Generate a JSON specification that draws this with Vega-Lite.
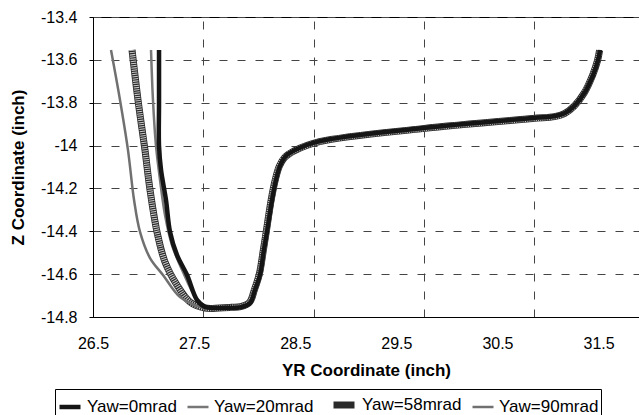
{
  "$schema": "https://vega.github.io/schema/vega-lite/v6.json",
  "width": 546,
  "height": 300,
  "autosize": {"type": "none"},
  "padding": {"left": 93, "top": 17, "right": 0, "bottom": 98},
  "background": "white",
  "config": {
    "font": "Liberation Sans",
    "view": {"stroke": "black", "strokeWidth": 1},
    "axis": {"labelColor": "black", "titleColor": "black", "domainColor": "black", "tickColor": "black", "gridColor": "#444444", "gridDash": [8, 10], "gridWidth": 1, "labelFontSize": 16, "titleFontSize": 17, "titleFontWeight": "bold"},
    "legend": {"orient": "none", "legendX": -38, "legendY": 372, "direction": "horizontal", "strokeColor": "black", "padding": 2, "symbolType": "stroke", "symbolSize": 441, "labelFontSize": 17, "labelColor": "black", "labelOffset": 4, "columnPadding": 5, "title": null}
  },
  "data": {"values": [
    {"series": "Yaw=58mrad", "i": 0, "yr": 26.886, "z": -13.554},
    {"series": "Yaw=58mrad", "i": 1, "yr": 26.945, "z": -13.787},
    {"series": "Yaw=58mrad", "i": 2, "yr": 27.014, "z": -14.021},
    {"series": "Yaw=58mrad", "i": 3, "yr": 27.064, "z": -14.207},
    {"series": "Yaw=58mrad", "i": 4, "yr": 27.133, "z": -14.403},
    {"series": "Yaw=58mrad", "i": 5, "yr": 27.212, "z": -14.543},
    {"series": "Yaw=58mrad", "i": 6, "yr": 27.331, "z": -14.651},
    {"series": "Yaw=58mrad", "i": 7, "yr": 27.459, "z": -14.73},
    {"series": "Yaw=58mrad", "i": 8, "yr": 27.608, "z": -14.758},
    {"series": "Yaw=58mrad", "i": 9, "yr": 27.75, "z": -14.758},
    {"series": "Yaw=58mrad", "i": 10, "yr": 27.87, "z": -14.755},
    {"series": "Yaw=58mrad", "i": 11, "yr": 27.96, "z": -14.752},
    {"series": "Yaw=58mrad", "i": 12, "yr": 28.048, "z": -14.732},
    {"series": "Yaw=58mrad", "i": 13, "yr": 28.097, "z": -14.672},
    {"series": "Yaw=58mrad", "i": 14, "yr": 28.145, "z": -14.6},
    {"series": "Yaw=58mrad", "i": 15, "yr": 28.185, "z": -14.487},
    {"series": "Yaw=58mrad", "i": 16, "yr": 28.213, "z": -14.403},
    {"series": "Yaw=58mrad", "i": 17, "yr": 28.262, "z": -14.254},
    {"series": "Yaw=58mrad", "i": 18, "yr": 28.302, "z": -14.161},
    {"series": "Yaw=58mrad", "i": 19, "yr": 28.342, "z": -14.097},
    {"series": "Yaw=58mrad", "i": 20, "yr": 28.392, "z": -14.057},
    {"series": "Yaw=58mrad", "i": 21, "yr": 28.49, "z": -14.025},
    {"series": "Yaw=58mrad", "i": 22, "yr": 28.74, "z": -13.982},
    {"series": "Yaw=58mrad", "i": 23, "yr": 29.76, "z": -13.921},
    {"series": "Yaw=58mrad", "i": 24, "yr": 30.85, "z": -13.874},
    {"series": "Yaw=58mrad", "i": 25, "yr": 31.065, "z": -13.865},
    {"series": "Yaw=58mrad", "i": 26, "yr": 31.162, "z": -13.851},
    {"series": "Yaw=58mrad", "i": 27, "yr": 31.262, "z": -13.814},
    {"series": "Yaw=58mrad", "i": 28, "yr": 31.36, "z": -13.753},
    {"series": "Yaw=58mrad", "i": 29, "yr": 31.44, "z": -13.673},
    {"series": "Yaw=58mrad", "i": 30, "yr": 31.49, "z": -13.603},
    {"series": "Yaw=58mrad", "i": 31, "yr": 31.51, "z": -13.556},

    {"series": "Yaw=20mrad", "i": 0, "yr": 27.074, "z": -13.554},
    {"series": "Yaw=20mrad", "i": 1, "yr": 27.093, "z": -13.787},
    {"series": "Yaw=20mrad", "i": 2, "yr": 27.123, "z": -14.002},
    {"series": "Yaw=20mrad", "i": 3, "yr": 27.163, "z": -14.161},
    {"series": "Yaw=20mrad", "i": 4, "yr": 27.212, "z": -14.324},
    {"series": "Yaw=20mrad", "i": 5, "yr": 27.281, "z": -14.464},
    {"series": "Yaw=20mrad", "i": 6, "yr": 27.39, "z": -14.59},
    {"series": "Yaw=20mrad", "i": 7, "yr": 27.509, "z": -14.702},
    {"series": "Yaw=20mrad", "i": 8, "yr": 27.628, "z": -14.753},
    {"series": "Yaw=20mrad", "i": 9, "yr": 27.72, "z": -14.76},
    {"series": "Yaw=20mrad", "i": 10, "yr": 27.82, "z": -14.755},
    {"series": "Yaw=20mrad", "i": 11, "yr": 27.96, "z": -14.752},
    {"series": "Yaw=20mrad", "i": 12, "yr": 28.065, "z": -14.73},
    {"series": "Yaw=20mrad", "i": 13, "yr": 28.115, "z": -14.67},
    {"series": "Yaw=20mrad", "i": 14, "yr": 28.165, "z": -14.6},
    {"series": "Yaw=20mrad", "i": 15, "yr": 28.203, "z": -14.487},
    {"series": "Yaw=20mrad", "i": 16, "yr": 28.232, "z": -14.403},
    {"series": "Yaw=20mrad", "i": 17, "yr": 28.281, "z": -14.254},
    {"series": "Yaw=20mrad", "i": 18, "yr": 28.32, "z": -14.161},
    {"series": "Yaw=20mrad", "i": 19, "yr": 28.362, "z": -14.092},
    {"series": "Yaw=20mrad", "i": 20, "yr": 28.41, "z": -14.05},
    {"series": "Yaw=20mrad", "i": 21, "yr": 28.51, "z": -14.017},
    {"series": "Yaw=20mrad", "i": 22, "yr": 28.75, "z": -13.975},
    {"series": "Yaw=20mrad", "i": 23, "yr": 29.77, "z": -13.914},
    {"series": "Yaw=20mrad", "i": 24, "yr": 30.86, "z": -13.867},
    {"series": "Yaw=20mrad", "i": 25, "yr": 31.08, "z": -13.858},
    {"series": "Yaw=20mrad", "i": 26, "yr": 31.18, "z": -13.843},
    {"series": "Yaw=20mrad", "i": 27, "yr": 31.278, "z": -13.806},
    {"series": "Yaw=20mrad", "i": 28, "yr": 31.376, "z": -13.745},
    {"series": "Yaw=20mrad", "i": 29, "yr": 31.455, "z": -13.667},
    {"series": "Yaw=20mrad", "i": 30, "yr": 31.503, "z": -13.598},
    {"series": "Yaw=20mrad", "i": 31, "yr": 31.522, "z": -13.554},

    {"series": "Yaw=90mrad", "i": 0, "yr": 26.678, "z": -13.554},
    {"series": "Yaw=90mrad", "i": 1, "yr": 26.767, "z": -13.787},
    {"series": "Yaw=90mrad", "i": 2, "yr": 26.846, "z": -14.021},
    {"series": "Yaw=90mrad", "i": 3, "yr": 26.906, "z": -14.254},
    {"series": "Yaw=90mrad", "i": 4, "yr": 26.965, "z": -14.403},
    {"series": "Yaw=90mrad", "i": 5, "yr": 27.064, "z": -14.525},
    {"series": "Yaw=90mrad", "i": 6, "yr": 27.192, "z": -14.604},
    {"series": "Yaw=90mrad", "i": 7, "yr": 27.361, "z": -14.707},
    {"series": "Yaw=90mrad", "i": 8, "yr": 27.558, "z": -14.753},
    {"series": "Yaw=90mrad", "i": 9, "yr": 27.68, "z": -14.762},
    {"series": "Yaw=90mrad", "i": 10, "yr": 27.8, "z": -14.76},
    {"series": "Yaw=90mrad", "i": 11, "yr": 27.945, "z": -14.758},
    {"series": "Yaw=90mrad", "i": 12, "yr": 28.04, "z": -14.74},
    {"series": "Yaw=90mrad", "i": 13, "yr": 28.09, "z": -14.678},
    {"series": "Yaw=90mrad", "i": 14, "yr": 28.14, "z": -14.606},
    {"series": "Yaw=90mrad", "i": 15, "yr": 28.18, "z": -14.49},
    {"series": "Yaw=90mrad", "i": 16, "yr": 28.21, "z": -14.405},
    {"series": "Yaw=90mrad", "i": 17, "yr": 28.26, "z": -14.256},
    {"series": "Yaw=90mrad", "i": 18, "yr": 28.298, "z": -14.163},
    {"series": "Yaw=90mrad", "i": 19, "yr": 28.338, "z": -14.1},
    {"series": "Yaw=90mrad", "i": 20, "yr": 28.388, "z": -14.06},
    {"series": "Yaw=90mrad", "i": 21, "yr": 28.488, "z": -14.027},
    {"series": "Yaw=90mrad", "i": 22, "yr": 28.74, "z": -13.985},
    {"series": "Yaw=90mrad", "i": 23, "yr": 29.76, "z": -13.924},
    {"series": "Yaw=90mrad", "i": 24, "yr": 30.848, "z": -13.877},
    {"series": "Yaw=90mrad", "i": 25, "yr": 31.06, "z": -13.868},
    {"series": "Yaw=90mrad", "i": 26, "yr": 31.158, "z": -13.854},
    {"series": "Yaw=90mrad", "i": 27, "yr": 31.258, "z": -13.817},
    {"series": "Yaw=90mrad", "i": 28, "yr": 31.357, "z": -13.756},
    {"series": "Yaw=90mrad", "i": 29, "yr": 31.438, "z": -13.676},
    {"series": "Yaw=90mrad", "i": 30, "yr": 31.488, "z": -13.604},
    {"series": "Yaw=90mrad", "i": 31, "yr": 31.508, "z": -13.556},

    {"series": "Yaw=0mrad", "i": 0, "yr": 27.153, "z": -13.554},
    {"series": "Yaw=0mrad", "i": 1, "yr": 27.153, "z": -13.8},
    {"series": "Yaw=0mrad", "i": 2, "yr": 27.153, "z": -14.002},
    {"series": "Yaw=0mrad", "i": 3, "yr": 27.173, "z": -14.114},
    {"series": "Yaw=0mrad", "i": 4, "yr": 27.222, "z": -14.254},
    {"series": "Yaw=0mrad", "i": 5, "yr": 27.262, "z": -14.403},
    {"series": "Yaw=0mrad", "i": 6, "yr": 27.331, "z": -14.511},
    {"series": "Yaw=0mrad", "i": 7, "yr": 27.43, "z": -14.604},
    {"series": "Yaw=0mrad", "i": 8, "yr": 27.529, "z": -14.721},
    {"series": "Yaw=0mrad", "i": 9, "yr": 27.608, "z": -14.753},
    {"series": "Yaw=0mrad", "i": 10, "yr": 27.7, "z": -14.758},
    {"series": "Yaw=0mrad", "i": 11, "yr": 27.806, "z": -14.757},
    {"series": "Yaw=0mrad", "i": 12, "yr": 27.954, "z": -14.755},
    {"series": "Yaw=0mrad", "i": 13, "yr": 28.053, "z": -14.735},
    {"series": "Yaw=0mrad", "i": 14, "yr": 28.102, "z": -14.674},
    {"series": "Yaw=0mrad", "i": 15, "yr": 28.152, "z": -14.604},
    {"series": "Yaw=0mrad", "i": 16, "yr": 28.191, "z": -14.487},
    {"series": "Yaw=0mrad", "i": 17, "yr": 28.221, "z": -14.403},
    {"series": "Yaw=0mrad", "i": 18, "yr": 28.271, "z": -14.254},
    {"series": "Yaw=0mrad", "i": 19, "yr": 28.31, "z": -14.161},
    {"series": "Yaw=0mrad", "i": 20, "yr": 28.35, "z": -14.095},
    {"series": "Yaw=0mrad", "i": 21, "yr": 28.399, "z": -14.053},
    {"series": "Yaw=0mrad", "i": 22, "yr": 28.498, "z": -14.021},
    {"series": "Yaw=0mrad", "i": 23, "yr": 28.745, "z": -13.979},
    {"series": "Yaw=0mrad", "i": 24, "yr": 29.764, "z": -13.918},
    {"series": "Yaw=0mrad", "i": 25, "yr": 30.852, "z": -13.871},
    {"series": "Yaw=0mrad", "i": 26, "yr": 31.07, "z": -13.862},
    {"series": "Yaw=0mrad", "i": 27, "yr": 31.169, "z": -13.848},
    {"series": "Yaw=0mrad", "i": 28, "yr": 31.268, "z": -13.811},
    {"series": "Yaw=0mrad", "i": 29, "yr": 31.366, "z": -13.75},
    {"series": "Yaw=0mrad", "i": 30, "yr": 31.446, "z": -13.671},
    {"series": "Yaw=0mrad", "i": 31, "yr": 31.495, "z": -13.601},
    {"series": "Yaw=0mrad", "i": 32, "yr": 31.515, "z": -13.554}
  ]},
  "resolve": {"scale": {"x": "independent"}},
  "layer": [
    {
      "mark": {"type": "line", "opacity": 0},
      "encoding": {
        "x": {"field": "yr", "type": "quantitative", "scale": {"domain": [26.5, 31.45], "nice": false, "zero": false},
              "axis": {"orient": "top", "grid": true, "labels": false, "ticks": false, "domain": false, "title": null, "values": [27.5, 28.5, 29.5, 30.5]}},
        "y": {"field": "z", "type": "quantitative", "scale": {"domain": [-14.8, -13.4], "nice": false, "zero": false},
              "axis": {"title": "Z Coordinate (inch)", "values": [-14.8, -14.6, -14.4, -14.2, -14, -13.8, -13.6, -13.4], "grid": true, "tickSize": 4, "labelPadding": 12, "titlePadding": 13, "labelExpr": "replace(format(datum.value, '.3~g'), '\u2212', '-')"}},
        "detail": {"field": "series"},
        "order": {"field": "i", "type": "quantitative"}
      }
    },
    {
      "encoding": {
        "x": {"field": "yr", "type": "quantitative", "scale": {"domain": [26.5, 31.9], "nice": false, "zero": false},
              "axis": {"title": "YR Coordinate (inch)", "values": [26.5, 27.5, 28.5, 29.5, 30.5, 31.5], "format": ".1f", "grid": false, "ticks": false, "labelFlush": false, "labelPadding": 18, "titlePadding": 11}},
        "y": {"field": "z", "type": "quantitative", "scale": {"domain": [-14.8, -13.4], "nice": false, "zero": false},
              "axis": {"title": "Z Coordinate (inch)", "values": [-14.8, -14.6, -14.4, -14.2, -14, -13.8, -13.6, -13.4], "grid": true, "tickSize": 4, "labelPadding": 12, "titlePadding": 13, "labelExpr": "replace(format(datum.value, '.3~g'), '\u2212', '-')"}},
        "order": {"field": "i", "type": "quantitative"}
      },
      "layer": [
        {
          "transform": [{"filter": "datum.series === 'Yaw=58mrad'"}],
          "mark": {"type": "line", "interpolate": "catmull-rom", "strokeCap": "butt"},
          "encoding": {
            "color": {"field": "series", "type": "nominal", "scale": {"domain": ["Yaw=0mrad", "Yaw=20mrad", "Yaw=58mrad", "Yaw=90mrad"], "range": ["#151515", "#777777", "#2a2a2a", "#707070"]}},
            "strokeWidth": {"field": "series", "type": "nominal", "scale": {"type": "ordinal", "domain": ["Yaw=0mrad", "Yaw=20mrad", "Yaw=58mrad", "Yaw=90mrad"], "range": [4.5, 2.5, 7, 2.5]}}
          }
        },
        {
          "transform": [{"filter": "datum.series === 'Yaw=58mrad'"}],
          "mark": {"type": "line", "interpolate": "catmull-rom", "color": "white", "strokeWidth": 5.5, "strokeDash": [1, 1.2], "opacity": 0.75, "strokeCap": "butt"},
          "encoding": {"detail": {"field": "series"}}
        },
        {
          "transform": [{"filter": "datum.series !== 'Yaw=58mrad'"}],
          "mark": {"type": "line", "interpolate": "catmull-rom", "strokeCap": "butt"},
          "encoding": {
            "color": {"field": "series", "type": "nominal", "scale": {"domain": ["Yaw=0mrad", "Yaw=20mrad", "Yaw=58mrad", "Yaw=90mrad"], "range": ["#151515", "#777777", "#2a2a2a", "#707070"]}},
            "strokeWidth": {"field": "series", "type": "nominal", "scale": {"type": "ordinal", "domain": ["Yaw=0mrad", "Yaw=20mrad", "Yaw=58mrad", "Yaw=90mrad"], "range": [4.5, 2.5, 7, 2.5]}}
          }
        }
      ]
    }
  ]
}
